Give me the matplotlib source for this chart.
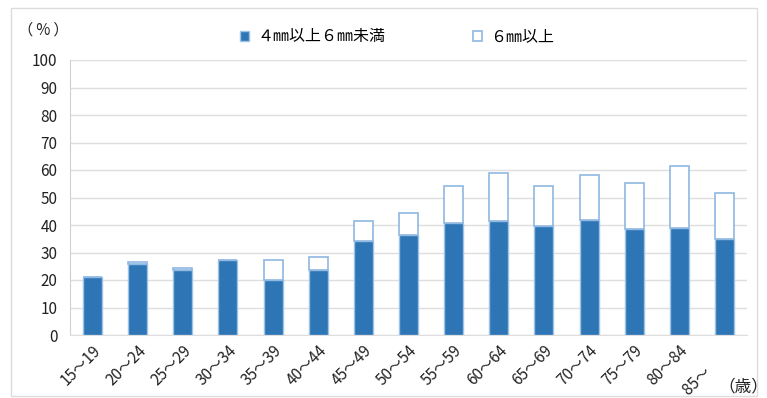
import matplotlib.pyplot as plt
from matplotlib.patches import Rectangle
import numpy as np

plt.rcParams['font.family'] = ['Noto Sans CJK JP', 'DejaVu Sans']

ages = ['15～19', '20～24', '25～29', '30～34', '35～39', '40～44', '45～49',
        '50～54', '55～59', '60～64', '65～69', '70～74', '75～79', '80～84', '85～\u3000\u3000']
# 4mm以上6mm未満 (%)
mid = [21.2, 25.8, 23.7, 27.2, 19.9, 23.7, 34.2, 36.4, 40.8, 41.6, 39.7, 41.8, 38.5, 38.9, 34.8]
# total incl. 6mm以上 (%)
total = [21.2, 26.5, 24.5, 27.2, 27.4, 28.5, 41.5, 44.2, 54.2, 59.0, 54.2, 58.2, 55.2, 61.6, 51.7]
over6 = [t - m for t, m in zip(total, mid)]

fig = plt.figure(figsize=(7.67, 3.98), dpi=100)
fig.patches.append(Rectangle((11 / 767, 2 / 398), 746 / 767, 388 / 398,
                             transform=fig.transFigure, fill=False,
                             edgecolor='#dcdcdc', linewidth=1))
ax = fig.add_axes([70 / 767, 63 / 398, 677 / 767, 275 / 398])

x = np.arange(len(ages))
b1 = ax.bar(x, mid, width=0.42, color='#2e75b6', edgecolor='#9dc3e6',
            linewidth=1, label='４㎜以上６㎜未満', zorder=3)
b2 = ax.bar(x, over6, bottom=mid, width=0.42, color='white', edgecolor='#8db8e2',
            linewidth=1.2, label='６㎜以上', zorder=3)

ax.set_xlim(-0.5, len(ages) - 0.5)
ax.set_ylim(0, 100)
ax.set_yticks(range(0, 101, 10))
ax.yaxis.grid(True, color='#dedede', linewidth=1, zorder=0)
ax.set_axisbelow(True)
for s in ['top', 'right']:
    ax.spines[s].set_visible(False)
ax.spines['left'].set_color('#d0d0d0')
ax.spines['bottom'].set_color('#dedede')
ax.tick_params(axis='both', length=0, labelsize=11, colors='#222222')
ax.tick_params(axis='y', pad=9)
ax.tick_params(axis='x', pad=5)
ax.set_xticks(x)
ax.set_xticklabels(ages, rotation=45, ha='right', va='top', rotation_mode='anchor')

fig.text(18 / 767, 1 - 30 / 398, '（\u2009%\u2009）', fontsize=11, va='center', ha='left',
         color='#222222')
fig.text(743 / 767, 1 - 387 / 398, '（歳）', fontsize=12, va='center', ha='center',
         color='#222222')

fig.legend(handles=[b1, b2], loc='center', bbox_to_anchor=(397 / 767, 1 - 37 / 398),
           ncol=2, frameon=False, fontsize=11.5, handlelength=0.55, handleheight=0.55,
           handletextpad=0.5, columnspacing=5.5)

fig.savefig('out.png', dpi=100, facecolor='white')
